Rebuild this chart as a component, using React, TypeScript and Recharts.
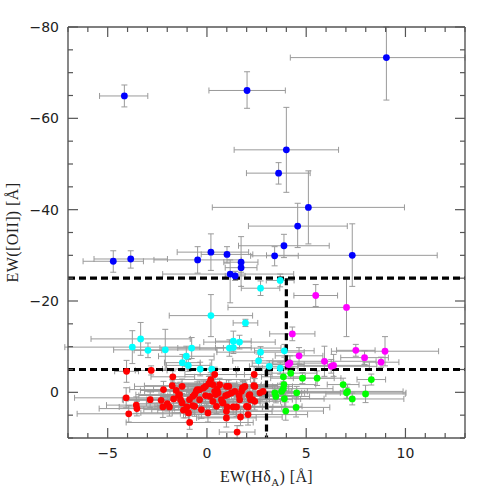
import React from "react";
import { ErrorBar, Label, ReferenceLine, Scatter, ScatterChart, XAxis, YAxis } from "recharts";

// [x, y, ex, ey] or [x, y, exLow, exHigh, eyLow, eyHigh]
type Pt = number[];

const blueGalaxies: Pt[] = [
  [-4.16, -64.9, 1.25, 1.18, 2.4, 2.4],
  [2.02, -66.1, 1.92, 1.93, 4.1, 3.9],
  [9.04, -73.3, 4.84, 3.96, 6.7, 9.3],
  [4.0, -53.1, 2.63, 2.63, 9.3, 9.3],
  [3.61, -48.0, 1.62, 1.59, 2.3, 2.4],
  [5.11, -40.5, 4.84, 4.84, 8.0, 8.0],
  [4.57, -36.4, 2.48, 2.5, 5.0, 4.7],
  [3.88, -32.1, 2.29, 2.28, 2.5, 2.6],
  [3.41, -29.9, 1.21, 1.19, 2.0, 2.2],
  [7.32, -30.0, 4.32, 4.28, 6.9, 6.8],
  [-4.72, -28.7, 1.52, 1.52, 2.3, 2.4],
  [-3.84, -29.2, 1.85, 1.85, 1.8, 2.0],
  [-0.47, -29.0, 2.2, 2.2, 2.9, 2.9],
  [0.2, -30.7, 1.7, 1.9, 4.0, 4.0],
  [1.01, -30.2, 1.3, 1.3, 1.7, 1.9],
  [1.72, -28.5, 0.87, 0.85, 5.6, 5.3],
  [1.72, -27.3, 0.8, 0.8, 1.0, 1.0],
  [1.17, -25.9, 3.4, 3.2, 3.1, 6.3],
  [1.42, -25.5, 0.5, 0.5, 1.0, 1.0],
];

const cyanGalaxies: Pt[] = [
  [2.7, -22.8, 0.97, 1.6],
  [3.69, -24.5, 0.7, 1.4],
  [0.2, -16.8, 2.1, 4.6],
  [1.94, -15.2, 0.62, 0.8],
  [-3.34, -11.7, 2.5, 3.6],
  [-3.76, -9.9, 3.4, 3.6],
  [-2.97, -9.2, 0.7, 1.6],
  [-2.1, -9.3, 2.6, 4.5],
  [-0.77, -9.7, 1.6, 2.3],
  [-1.04, -7.9, 1.4, 2.2],
  [-1.24, -6.5, 0.9, 1.8],
  [-0.94, -5.9, 1.1, 1.3],
  [-0.34, -5.1, 1.9, 1.5],
  [0.24, -5.1, 1.2, 2.0],
  [1.33, -11.2, 0.9, 2.2],
  [1.64, -11.0, 1.8, 1.5],
  [1.13, -9.7, 2.6, 1.8],
  [1.33, -9.8, 0.9, 1.3],
  [2.7, -8.8, 2.2, 1.2],
  [2.6, -6.9, 1.3, 1.5],
  [3.9, -9.1, 1.5, 1.4],
  [3.69, -5.3, 0.9, 1.3],
  [3.14, -5.7, 1.0, 1.2],
];

const magentaGalaxies: Pt[] = [
  [5.48, -21.2, 1.1, 2.4],
  [7.03, -18.6, 5.97, 6.4],
  [4.3, -12.8, 1.14, 1.5],
  [7.5, -9.2, 0.97, 1.3],
  [8.97, -9.0, 2.7, 3.2],
  [4.64, -8.0, 1.2, 1.8],
  [7.94, -7.6, 1.2, 1.5],
  [8.77, -6.6, 0.9, 1.1],
  [5.92, -6.8, 2.6, 3.3],
  [6.26, -5.7, 2.3, 1.5],
  [6.38, -5.9, 1.8, 2.4],
  [4.18, -6.4, 1.9, 1.6],
  [4.1, -6.1, 0.8, 1.0],
];

const greenGalaxies: Pt[] = [
  [3.85, -3.4, 1.1, 1.5],
  [4.22, -4.2, 1.3, 1.2],
  [4.81, -3.1, 1.6, 1.2],
  [5.55, -3.1, 1.2, 1.6],
  [8.28, -2.8, 0.72, 1.2],
  [3.88, -1.7, 1.6, 1.3],
  [3.85, -0.8, 2.5, 1.5],
  [3.76, -0.2, 1.3, 1.8],
  [6.86, -1.7, 0.8, 1.4],
  [7.08, -0.2, 2.8, 1.6],
  [7.03, 0.1, 3.0, 1.2],
  [7.99, 0.35, 2.0, 1.9],
  [7.32, 1.45, 2.6, 1.3],
  [4.52, 0.1, 2.2, 1.4],
  [3.42, 0.1, 1.5, 1.6],
  [3.47, 0.9, 1.7, 1.4],
  [3.9, 1.4, 2.0, 1.7],
  [4.49, 3.3, 1.7, 2.1],
  [3.97, 4.1, 1.9, 2.0],
];

const redGalaxies: Pt[] = [
  [-4.05, -4.6, 0.6, 2.4], [-2.81, -4.8, 0.8, 1.0], [-1.72, -3.4, 1.1, 1.3], [0.39, -3.9, 1.5, 1.6],
  [2.38, -3.9, 0.9, 1.8], [0.14, -2.05, 1.8, 1.5], [0.64, -1.68, 2.1, 1.4], [-0.07, -1.31, 1.6, 1.2],
  [-1.25, -1.31, 2.4, 1.6], [-1.75, -1.46, 1.4, 1.3], [0.98, -1.31, 1.9, 1.5], [2.36, -1.46, 1.2, 1.7],
  [1.82, -0.95, 2.3, 1.4], [-2.19, -0.6, 1.7, 1.8], [-0.54, -0.22, 2.6, 1.5], [-0.37, -0.59, 1.3, 1.9],
  [0.39, -0.22, 1.9, 1.4], [0.56, 0.15, 1.6, 1.7], [-1.38, 0.5, 2.2, 1.3], [-0.71, 0.87, 1.5, 1.8],
  [1.06, 0.5, 2.0, 1.6], [1.23, 0.15, 1.4, 1.5], [1.74, -0.22, 2.5, 1.3], [2.16, 0.5, 1.8, 1.9],
  [2.67, 0.1, 2.1, 1.6], [2.83, -0.2, 1.3, 1.4], [0.14, 0.87, 1.7, 1.5], [-4.07, 1.2, 2.6, 2.2],
  [-2.86, 1.6, 1.4, 1.7], [-2.31, 1.75, 1.9, 1.6], [-1.68, 1.45, 2.3, 1.9], [-1.25, 2.33, 1.8, 2.1],
  [-0.37, 1.6, 2.4, 1.7], [0.73, 1.6, 1.7, 1.4], [0.81, 2.33, 2.2, 1.8], [1.65, 1.6, 1.5, 1.6],
  [2.3, 1.6, 2.0, 1.5], [2.41, 1.97, 1.3, 1.9], [-0.88, 1.6, 1.9, 1.6], [-3.56, 2.8, 1.5, 1.8],
  [-3.53, 3.56, 1.9, 1.6], [-2.22, 3.2, 2.2, 2.3], [-1.89, 3.2, 1.6, 2.0], [-1.08, 3.78, 2.1, 1.8],
  [-1.01, 3.2, 1.4, 1.7], [-0.28, 3.78, 2.5, 1.9], [0.05, 4.5, 1.8, 2.0], [0.98, 4.15, 2.3, 1.7],
  [1.49, 3.2, 1.6, 2.1], [1.99, 3.06, 2.8, 1.8], [0.48, 3.06, 1.9, 1.6], [-0.62, 3.06, 2.0, 2.2],
  [-3.94, 4.7, 2.6, 1.8], [0.98, 5.6, 1.5, 2.0], [1.69, 5.4, 2.1, 1.9], [2.07, 4.87, 3.0, 2.3],
  [-0.87, 6.6, 3.2, 1.5], [1.52, 8.7, 0.9, 1.4], [-1.43, 0.7, 2.0, 1.5], [-1.33, 1.6, 1.7, 1.8],
  [-1.18, 3.9, 1.3, 1.7], [-0.93, 4.5, 2.4, 2.0], [-0.71, 2.9, 1.8, 1.6], [-0.62, 0.5, 1.5, 1.4],
  [-0.49, -0.6, 2.2, 1.7], [-0.17, -0.95, 1.6, 1.5], [-0.07, 0.7, 1.9, 1.8], [0.1, -1.9, 1.4, 1.6],
  [0.19, -2.8, 2.0, 1.5], [0.3, -1.7, 1.7, 1.3], [0.44, 0.5, 2.3, 1.7], [0.51, -0.7, 1.5, 1.4],
  [0.78, 2.3, 1.9, 1.6], [0.94, 0.7, 2.2, 1.5], [1.01, 3.2, 1.8, 1.9], [1.1, -1.3, 1.6, 1.4],
  [1.32, 3.2, 2.0, 1.7], [1.4, -0.2, 1.5, 1.6], [1.62, 0.7, 1.9, 1.5], [1.79, -0.95, 2.1, 1.7],
  [1.91, -1.3, 1.4, 1.4], [2.07, 3.2, 1.7, 1.8], [2.12, 0.7, 2.4, 1.6], [2.19, 1.6, 1.6, 1.5],
  [2.41, -1.3, 1.9, 1.7], [-2.0, 2.5, 1.5, 1.6], [-1.55, -0.4, 1.8, 1.5], [0.3, 2.0, 1.7, 1.9],
];

const xTicks = [-7, -6, -5, -4, -3, -2, -1, 0, 1, 2, 3, 4, 5, 6, 7, 8, 9, 10, 11, 12, 13];
const xMajor = [-5, 0, 5, 10];
const yTicks = [-80, -75, -70, -65, -60, -55, -50, -45, -40, -35, -30, -25, -20, -15, -10, -5, 0, 5, 10];
const yMajor = [-80, -60, -40, -20, 0];

const FRAME = "#555555";
const BAR = "#9a9a9a";
const TICK_FONT = "DejaVu Sans, sans-serif";
const TITLE_FONT = "Liberation Serif, serif";

const toRows = (pts: Pt[]) =>
  pts.map((p) =>
    p.length === 6
      ? { x: p[0], y: p[1], ex: [p[2], p[3]], ey: [p[4], p[5]] }
      : { x: p[0], y: p[1], ex: [p[2], p[2]], ey: [p[3], p[3]] }
  );

const groups = [
  { name: "blue", color: "#0000ff", rows: toRows(blueGalaxies) },
  { name: "cyan", color: "#00ffff", rows: toRows(cyanGalaxies) },
  { name: "magenta", color: "#ff00ff", rows: toRows(magentaGalaxies) },
  { name: "green", color: "#00ff00", rows: toRows(greenGalaxies) },
  { name: "red", color: "#ff0000", rows: toRows(redGalaxies) },
];
const allRows = groups.flatMap((g) => g.rows);

const fmt = (v: number) => (v < 0 ? `\u2212${-v}` : `${v}`);

const makeTick = (side: "bottom" | "top" | "left" | "right") => (props: any) => {
  const { x, y, payload } = props;
  const v = payload.value;
  const major = side === "bottom" || side === "top" ? xMajor.includes(v) : yMajor.includes(v);
  const len = major ? 10 : 5;
  let line;
  if (side === "bottom") line = { x1: x, y1: y, x2: x, y2: y - len };
  else if (side === "top") line = { x1: x, y1: y, x2: x, y2: y + len };
  else if (side === "left") line = { x1: x, y1: y, x2: x + len, y2: y };
  else line = { x1: x, y1: y, x2: x - len, y2: y };
  return (
    <g>
      <line {...line} stroke={FRAME} strokeWidth={1.2} />
      {major && side === "bottom" && (
        <text x={x} y={y + 20} textAnchor="middle" fontFamily={TICK_FONT} fontSize={14} fill="#222">
          {fmt(v)}
        </text>
      )}
      {major && side === "left" && (
        <text x={x - 9} y={y + 5} textAnchor="end" fontFamily={TICK_FONT} fontSize={14} fill="#222">
          {fmt(v)}
        </text>
      )}
    </g>
  );
};

const XTitle = (props: any) => {
  const vb = props.viewBox || { x: 68, y: 438, width: 397 };
  return (
    <text x={vb.x + vb.width / 2} y={vb.y + 44} textAnchor="middle" fontFamily={TITLE_FONT} fontSize={16} fill="#222" letterSpacing={0.4}>
      EW(H<tspan>δ</tspan>
      <tspan dy={4} fontSize={11}>A</tspan>
      <tspan dy={-4}>) [Å]</tspan>
    </text>
  );
};

const YTitle = (props: any) => {
  const vb = props.viewBox || { x: 8, y: 27, height: 411 };
  const cx = 18;
  const cy = vb.y + vb.height / 2;
  return (
    <text x={cx} y={cy} transform={`rotate(-90 ${cx} ${cy})`} textAnchor="middle" fontFamily={TITLE_FONT} fontSize={16} fill="#222" letterSpacing={0.4}>
      EW([OII]) [Å]
    </text>
  );
};

const Dot = (color: string) => (props: any) =>
  props.cx == null ? <g /> : <circle cx={props.cx} cy={props.cy} r={3.4} fill={color} />;

const NoDot = () => <g />;

const dashed = { stroke: "#000", strokeWidth: 3.2, strokeDasharray: "7 4" };

export default function App() {
  return (
    <div style={{ position: "absolute", left: 0, top: 0, width: 491, height: 491, background: "#fff" }}>
      <ScatterChart width={491} height={491} margin={{ top: 26, right: 25, bottom: 0, left: 8 }}>
        <XAxis
          xAxisId="b"
          type="number"
          dataKey="x"
          orientation="bottom"
          domain={[-7, 13]}
          allowDataOverflow
          ticks={xTicks}
          interval={0}
          height={53}
          tickSize={0}
          tickMargin={0}
          tickLine={false}
          tick={makeTick("bottom")}
          axisLine={{ stroke: FRAME, strokeWidth: 1.4 }}
        >
          <Label content={XTitle} />
        </XAxis>
        <XAxis
          xAxisId="t"
          type="number"
          dataKey="x"
          orientation="top"
          domain={[-7, 13]}
          allowDataOverflow
          ticks={xTicks}
          interval={0}
          height={1}
          tickSize={0}
          tickMargin={0}
          tickLine={false}
          tick={makeTick("top")}
          axisLine={{ stroke: FRAME, strokeWidth: 1.4 }}
        />
        <YAxis
          yAxisId="l"
          type="number"
          dataKey="y"
          orientation="left"
          reversed
          domain={[-80, 10]}
          allowDataOverflow
          ticks={yTicks}
          interval={0}
          width={60}
          tickSize={0}
          tickMargin={0}
          tickLine={false}
          tick={makeTick("left")}
          axisLine={{ stroke: FRAME, strokeWidth: 1.4 }}
        >
          <Label content={YTitle} />
        </YAxis>
        <YAxis
          yAxisId="r"
          type="number"
          dataKey="y"
          orientation="right"
          reversed
          domain={[-80, 10]}
          allowDataOverflow
          ticks={yTicks}
          interval={0}
          width={1}
          tickSize={0}
          tickMargin={0}
          tickLine={false}
          tick={makeTick("right")}
          axisLine={{ stroke: FRAME, strokeWidth: 1.4 }}
        />
        <Scatter data={allRows} xAxisId="t" yAxisId="r" shape={NoDot} isAnimationActive={false} />
        <Scatter data={allRows} xAxisId="b" yAxisId="l" shape={NoDot} isAnimationActive={false}>
          <ErrorBar dataKey="ex" direction="x" width={3} stroke={BAR} strokeWidth={1} isAnimationActive={false} />
          <ErrorBar dataKey="ey" direction="y" width={3} stroke={BAR} strokeWidth={1} isAnimationActive={false} />
        </Scatter>
        {groups.map((g) => (
          <Scatter key={g.name} data={g.rows} xAxisId="b" yAxisId="l" shape={Dot(g.color)} isAnimationActive={false} />
        ))}
        <ReferenceLine xAxisId="b" yAxisId="l" segment={[{ x: -7, y: -25 }, { x: 13, y: -25 }]} {...dashed} />
        <ReferenceLine xAxisId="b" yAxisId="l" segment={[{ x: -7, y: -5 }, { x: 13, y: -5 }]} {...dashed} />
        <ReferenceLine xAxisId="b" yAxisId="l" segment={[{ x: 4, y: -25 }, { x: 4, y: -5 }]} {...dashed} />
        <ReferenceLine xAxisId="b" yAxisId="l" segment={[{ x: 3, y: -5 }, { x: 3, y: 10 }]} {...dashed} />
      </ScatterChart>
    </div>
  );
}
